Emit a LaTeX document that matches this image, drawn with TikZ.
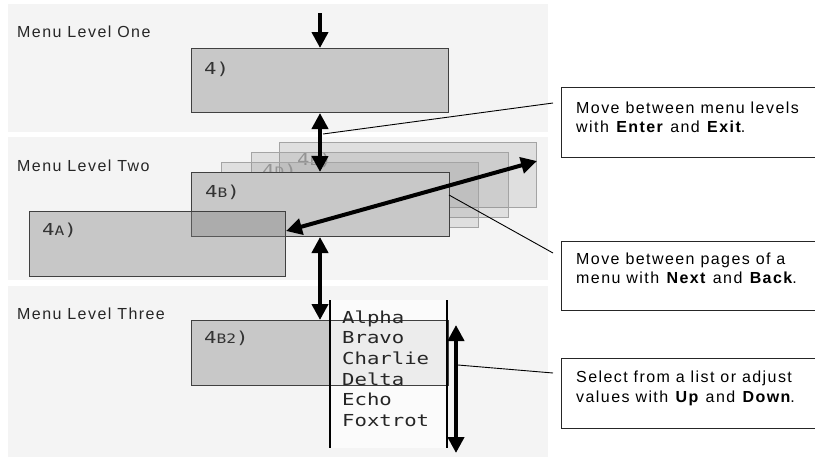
\documentclass[tikz,border=0pt]{standalone}
\usepackage{fontspec}
\setmainfont{Liberation Sans}[LetterSpace=9]
\newfontfamily\monofont{DejaVu Sans Mono}[FakeStretch=1.25]
\usetikzlibrary{arrows.meta}
\definecolor{bandgray}{HTML}{F4F4F4}
\definecolor{boxfill}{HTML}{C8C8C8}
\definecolor{boxedge}{HTML}{404040}
\definecolor{pageedge}{HTML}{A4A4A4}
\newcommand\lowch[1]{{\fontsize{13}{13}\selectfont #1}}
\begin{document}
\begin{tikzpicture}[x=1pt,y=-1pt,
  menubox/.style={rectangle,inner sep=0pt,anchor=north west,draw=boxedge,
    line width=1pt,fill=boxfill,minimum width=257pt,minimum height=64pt},
  pagebox/.style={rectangle,inner sep=0pt,anchor=north west,draw=pageedge,
    line width=1pt,fill=black!50,fill opacity=0.18,
    minimum width=257pt,minimum height=65pt},
  boxlabel/.style={anchor=base west,inner sep=0pt,text=black!80,
    font=\monofont\fontsize{16.5}{18}\selectfont},
  pagelabel/.style={boxlabel,text=black!40},
  listitem/.style={anchor=base west,inner sep=0pt,text=black!85,
    font=\monofont\fontsize{16.5}{18}\selectfont},
  levellabel/.style={anchor=base west,inner sep=0pt,text=black!85,
    font=\fontsize{16}{18}\selectfont},
  callout/.style={rectangle,inner sep=0pt,anchor=north west,draw=black!85,
    line width=1pt,fill=white,minimum width=270pt,minimum height=70pt},
  callouttext/.style={anchor=base west,inner sep=0pt,text=black,
    font=\fontsize{16}{18}\selectfont},
  bigarrow/.style={line width=4pt,-{Triangle[length=16pt,width=16pt]}},
  bigboth/.style={line width=4pt,
    {Triangle[length=16pt,width=16pt]}-{Triangle[length=16pt,width=16pt]}},
  leader/.style={line width=0.9pt,draw=black},
]
\path[use as bounding box,clip] (0,0) rectangle (815,459);

% level backgrounds
\fill[bandgray] (8,4) rectangle (548,132);
\fill[bandgray] (8,137) rectangle (548,280);
\fill[bandgray] (8,286) rectangle (548,457);

\node[levellabel] (lvl1) at (17,37.5) {Menu Level One};
\node[levellabel] (lvl2) at (17,171) {Menu Level Two};
\node[levellabel] (lvl3) at (17,319) {Menu Level Three};

% level one
\node[menubox] (m1) at (191,48) {};
\node[boxlabel] (m1lab) at (204,74) {4)};

% level two: stacked pages behind 4B
\node[pagebox] (p3) at (279,142) {};
\node[pagelabel] (p3lab) at (297,165) {4\lowch{E})};
\node[pagebox] (p2) at (251,152) {};
\node[pagelabel] (p2lab) at (262,176) {4\lowch{D})};
\node[pagebox] (p1) at (221,162) {};
\node[menubox,minimum width=258pt] (m2) at (191,172) {};
\node[boxlabel] (m2lab) at (205,197) {4\lowch{B})};
\node[menubox,fill=black!50,fill opacity=0.38,minimum width=256pt,
  minimum height=65pt] (ma) at (29,211) {};
\node[boxlabel] (malab) at (42,235) {4\lowch{A})};

% level three: item list over 4B2
\node[menubox,draw=none,minimum width=256pt] (m3) at (191,320) {};
\fill[white,opacity=0.66] (330,300) rectangle (447,448);
\draw[boxedge,line width=1pt] (m3.south west) rectangle (m3.north east);
\draw[line width=1.2pt] (330,300) -- (330,448);
\draw[line width=1.2pt] (447,300) -- (447,448);
\node[boxlabel] (m3lab) at (204,343) {4\lowch{B2})};
\foreach \w [count=\i] in {Alpha,Bravo,Charlie,Delta,Echo,Foxtrot}
  \node[listitem] (item\i) at (342,302.3+20.7*\i) {\w};

% navigation arrows
\coordinate (entry) at (320,13);
\draw[bigarrow] (entry) -- (entry |- m1.north);
\draw[bigboth] (entry |- m1.south) -- (entry |- m2.north);
\draw[bigboth] (entry |- m2.south) -- (entry |- m3.north);
\coordinate (pgL) at (286,231);
\coordinate (pgR) at (537,161);
\draw[bigboth] (pgL) -- (pgR);
\coordinate (upT) at (456,325);
\coordinate (upB) at (456,453);
\draw[bigboth] (upT) -- (upB);

% callouts
\node[callout] (c1) at (561,87) {};
\node[callout,minimum height=69pt] (c2) at (561,241) {};
\node[callout] (c3) at (561,358) {};

\node[callouttext] (t1a) at (576,113) {Move between menu levels};
\node[callouttext] (t1b) at (576,132) {with \textbf{Enter} and \textbf{Exit}.};
\node[callouttext] (t2a) at (576,264) {Move between pages of a};
\node[callouttext] (t2b) at (576,283) {menu with \textbf{Next} and \textbf{Back}.};
\node[callouttext] (t3a) at (576,382) {Select from a list or adjust};
\node[callouttext] (t3b) at (576,402) {values with \textbf{Up} and \textbf{Down}.};

% leader lines
\coordinate (l1s) at (323,134);
\coordinate (l1e) at (553,103);
\coordinate (l2s) at (449,195);
\coordinate (l2e) at (553,253);
\coordinate (l3s) at (458,365);
\coordinate (l3e) at (553,373);
\draw[leader] (l1s) -- (l1e);
\draw[leader] (l2s) -- (l2e);
\draw[leader] (l3s) -- (l3e);
\end{tikzpicture}
\end{document}
